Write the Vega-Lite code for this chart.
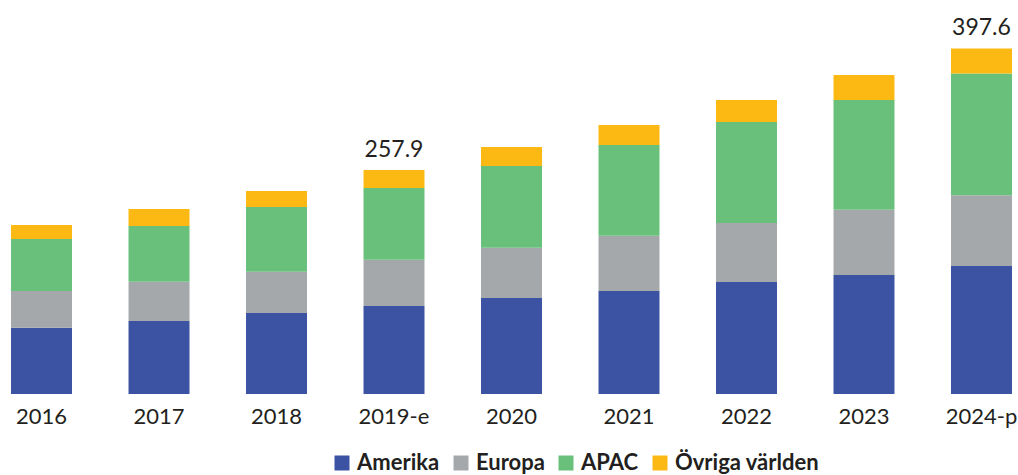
{
  "$schema": "https://vega.github.io/schema/vega-lite/v6.json",
  "width": 1018,
  "height": 394,
  "autosize": "none",
  "padding": {"left": 0, "top": 0, "right": 0, "bottom": 81},
  "background": "white",
  "config": {
    "view": {"stroke": null},
    "font": "Lato"
  },
  "datasets": {
    "parts": [
      {"year": "2016", "region": "Amerika", "value": 76.3},
      {"year": "2016", "region": "Europa", "value": 42.2},
      {"year": "2016", "region": "APAC", "value": 59.8},
      {"year": "2016", "region": "Övriga världen", "value": 16.1},
      {"year": "2017", "region": "Amerika", "value": 84.0},
      {"year": "2017", "region": "Europa", "value": 45.2},
      {"year": "2017", "region": "APAC", "value": 64.1},
      {"year": "2017", "region": "Övriga världen", "value": 19.6},
      {"year": "2018", "region": "Amerika", "value": 93.2},
      {"year": "2018", "region": "Europa", "value": 47.5},
      {"year": "2018", "region": "APAC", "value": 74.5},
      {"year": "2018", "region": "Övriga världen", "value": 18.4},
      {"year": "2019-e", "region": "Amerika", "value": 101.3},
      {"year": "2019-e", "region": "Europa", "value": 53.3},
      {"year": "2019-e", "region": "APAC", "value": 82.5},
      {"year": "2019-e", "region": "Övriga världen", "value": 20.8},
      {"year": "2020", "region": "Amerika", "value": 110.5},
      {"year": "2020", "region": "Europa", "value": 57.9},
      {"year": "2020", "region": "APAC", "value": 94.0},
      {"year": "2020", "region": "Övriga världen", "value": 21.9},
      {"year": "2021", "region": "Amerika", "value": 118.5},
      {"year": "2021", "region": "Europa", "value": 63.6},
      {"year": "2021", "region": "APAC", "value": 104.4},
      {"year": "2021", "region": "Övriga världen", "value": 23.0},
      {"year": "2022", "region": "Amerika", "value": 128.9},
      {"year": "2022", "region": "Europa", "value": 67.9},
      {"year": "2022", "region": "APAC", "value": 116.2},
      {"year": "2022", "region": "Övriga världen", "value": 25.3},
      {"year": "2023", "region": "Amerika", "value": 136.9},
      {"year": "2023", "region": "Europa", "value": 75.1},
      {"year": "2023", "region": "APAC", "value": 126.2},
      {"year": "2023", "region": "Övriga världen", "value": 28.8},
      {"year": "2024-p", "region": "Amerika", "value": 147.2},
      {"year": "2024-p", "region": "Europa", "value": 81.6},
      {"year": "2024-p", "region": "APAC", "value": 140.0},
      {"year": "2024-p", "region": "Övriga världen", "value": 28.8}
    ],
    "totals": [
      {"year": "2019-e", "total": 257.9},
      {"year": "2024-p", "total": 397.6}
    ]
  },
  "encoding": {
    "x": {
      "field": "year",
      "type": "nominal",
      "sort": null,
      "scale": {"paddingInner": 0.481, "paddingOuter": 0.0725, "align": 0.647},
      "axis": {
        "title": null,
        "domain": false,
        "ticks": false,
        "labelAngle": 0,
        "labelFont": "Lato",
        "labelFontSize": 22,
        "labelColor": "#231f20",
        "labelPadding": 12
      }
    }
  },
  "layer": [
    {
      "data": {"name": "parts"},
      "transform": [
        {"calculate": "indexof(['Amerika','Europa','APAC','Övriga världen'], datum.region)", "as": "idx"}
      ],
      "mark": {"type": "bar"},
      "encoding": {
        "y": {
          "field": "value",
          "type": "quantitative",
          "stack": "zero",
          "scale": {"domain": [0, 453.4], "nice": false, "zero": true},
          "axis": null
        },
        "color": {
          "field": "region",
          "type": "nominal",
          "scale": {
            "domain": ["Amerika", "Europa", "APAC", "Övriga världen"],
            "range": ["#3c53a4", "#a5a8ab", "#68c07b", "#fdb913"]
          },
          "legend": {
            "title": null,
            "orient": "none",
            "direction": "horizontal",
            "columns": 4,
            "legendX": 331,
            "legendY": 452,
            "symbolType": "square",
            "symbolSize": 225,
            "symbolStrokeWidth": 0,
            "symbolOpacity": 1,
            "labelFont": "Lato",
            "labelFontSize": 22,
            "labelFontWeight": "bold",
            "labelColor": "#231f20",
            "labelOffset": 4,
            "columnPadding": 10,
            "labelLimit": 300
          }
        },
        "order": {"field": "idx", "type": "quantitative", "sort": "ascending"}
      }
    },
    {
      "data": {"name": "totals"},
      "mark": {
        "type": "text",
        "baseline": "alphabetic",
        "dy": -13,
        "font": "Lato",
        "fontSize": 23,
        "color": "#231f20"
      },
      "encoding": {
        "y": {"field": "total", "type": "quantitative"},
        "text": {"field": "total", "type": "quantitative", "format": ".1f"}
      }
    }
  ]
}
